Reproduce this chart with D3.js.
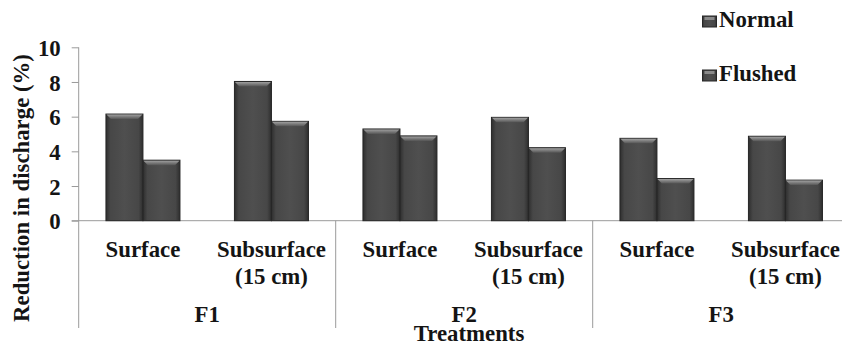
<!DOCTYPE html>
<html>
<head>
<meta charset="utf-8">
<script src="https://cdn.jsdelivr.net/npm/d3@7/dist/d3.min.js"></script>
<style>
  html, body { margin: 0; padding: 0; background: #fff; }
  svg { display: block; }
</style>
</head>
<body>
<svg id="chart" width="842" height="345"></svg>
<script>
// ---- data ----
const groups = ["F1", "F2", "F3"];
const categories = [["Surface"], ["Subsurface", "(15 cm)"], ["Surface"], ["Subsurface", "(15 cm)"], ["Surface"], ["Subsurface", "(15 cm)"]];
const seriesNames = ["Normal", "Flushed"];
const normal = [6.15, 8.03, 5.29, 5.96, 4.75, 4.87];
const flushed = [3.49, 5.73, 4.89, 4.21, 2.43, 2.34];
const yTicks = [0, 2, 4, 6, 8, 10];
const xTitle = "Treatments";
const yTitle = "Reduction in discharge (%)";

// ---- layout ----
const FONT = "Liberation Serif";
const FS = 22.8;
const svg = d3.select("#chart");
const mLeft = 78.7, mRight = 849.7, mTop = 47.3, mBottom = 220.7, axisEnd = 328;

const x = d3.scaleBand().domain(d3.range(categories.length)).range([mLeft, mRight])
  .paddingInner(0.424).paddingOuter(0.212);
const xs = d3.scaleBand().domain(seriesNames).range([0, x.bandwidth()]);
const y = d3.scaleLinear().domain([0, 10]).range([mBottom, mTop]);
const step = x.step();

// gradients
const defs = svg.append("defs");
const body = defs.append("linearGradient").attr("id", "barBody").attr("x1", 0).attr("x2", 1).attr("y1", 0).attr("y2", 0);
body.append("stop").attr("offset", "0%").attr("stop-color", "#2e2e2e");
body.append("stop").attr("offset", "12%").attr("stop-color", "#474747");
body.append("stop").attr("offset", "50%").attr("stop-color", "#4f4f4f");
body.append("stop").attr("offset", "88%").attr("stop-color", "#474747");
body.append("stop").attr("offset", "100%").attr("stop-color", "#2e2e2e");
const topG = defs.append("linearGradient").attr("id", "barTop").attr("x1", 0).attr("x2", 0).attr("y1", 0).attr("y2", 1);
topG.append("stop").attr("offset", "0%").attr("stop-color", "#a0a0a0");
topG.append("stop").attr("offset", "100%").attr("stop-color", "#555555");

// y axis
const yAxis = d3.axisLeft(y).tickValues(yTicks).tickSize(7).tickPadding(11).tickFormat(d3.format("d"));
const ga = svg.append("g").attr("transform", `translate(${mLeft},0)`).call(yAxis).attr("font-family", FONT);
ga.select(".domain").attr("stroke", "#9a9a9a").attr("d", `M0,${y(10)}V${axisEnd}`);
ga.selectAll(".tick line").attr("stroke", "#9a9a9a");
ga.selectAll(".tick text").attr("font-family", FONT).attr("font-size", FS).attr("font-weight", "bold").attr("fill", "#141414").attr("dy", "0.36em");

// baseline
svg.append("line").attr("x1", mLeft - 7).attr("x2", mRight).attr("y1", y(0)).attr("y2", y(0)).attr("stroke", "#9a9a9a");

// group separators
groups.forEach((g, i) => {
  if (i === 0) return;
  const sx = x(i * 2) - x.paddingOuter() * step;
  svg.append("line").attr("x1", sx).attr("x2", sx).attr("y1", y(0)).attr("y2", axisEnd).attr("stroke", "#9a9a9a");
});

// bars
function drawBar(g, bx, v, w) {
  const by = y(v), h = y(0) - y(v);
  g.append("rect").attr("x", bx).attr("y", by).attr("width", w).attr("height", h)
    .attr("fill", "url(#barBody)").attr("stroke", "#262626").attr("stroke-width", 1);
  const bev = Math.min(5, h / 2);
  g.append("path")
    .attr("d", `M${bx + 0.5},${by + 0.5}L${bx + w - 0.5},${by + 0.5}L${bx + w - 5},${by + bev}L${bx + 5},${by + bev}Z`)
    .attr("fill", "url(#barTop)");
}
const barsG = svg.append("g");
categories.forEach((c, i) => {
  drawBar(barsG, x(i) + xs("Normal"), normal[i], xs.bandwidth());
  drawBar(barsG, x(i) + xs("Flushed"), flushed[i], xs.bandwidth());
});

function txt(sel) { return sel.attr("font-family", FONT).attr("font-size", FS).attr("font-weight", "bold").attr("fill", "#141414"); }

// category labels
categories.forEach((lines, i) => {
  const cx = x(i) + x.bandwidth() / 2;
  const t = txt(svg.append("text")).attr("text-anchor", "middle").attr("x", cx).attr("y", 257);
  lines.forEach((ln, j) => t.append("tspan").attr("x", cx).attr("dy", j === 0 ? 0 : 27).text(ln));
});

// group labels
groups.forEach((g, i) => {
  const cx = (x(i * 2) + x(i * 2 + 1) + x.bandwidth()) / 2;
  txt(svg.append("text")).attr("text-anchor", "middle").attr("x", cx).attr("y", 322).text(g);
});

// axis titles
txt(svg.append("text")).attr("text-anchor", "middle").attr("x", 469).attr("y", 341).text(xTitle);
txt(svg.append("text")).attr("text-anchor", "middle")
  .attr("transform", `translate(29,188) rotate(-90)`).text(yTitle);

// legend
const legendY = [27, 81];
seriesNames.forEach((s, i) => {
  const lg = svg.append("g");
  lg.append("rect").attr("x", 702.5).attr("y", legendY[i] - 11).attr("width", 14).attr("height", 11)
    .attr("fill", "url(#barBody)").attr("stroke", "#262626");
  lg.append("rect").attr("x", 704.5).attr("y", legendY[i] - 10).attr("width", 10).attr("height", 3).attr("fill", "#8a8a8a");
  txt(lg.append("text")).attr("x", 719).attr("y", legendY[i]).text(s);
});
</script>
</body>
</html>
